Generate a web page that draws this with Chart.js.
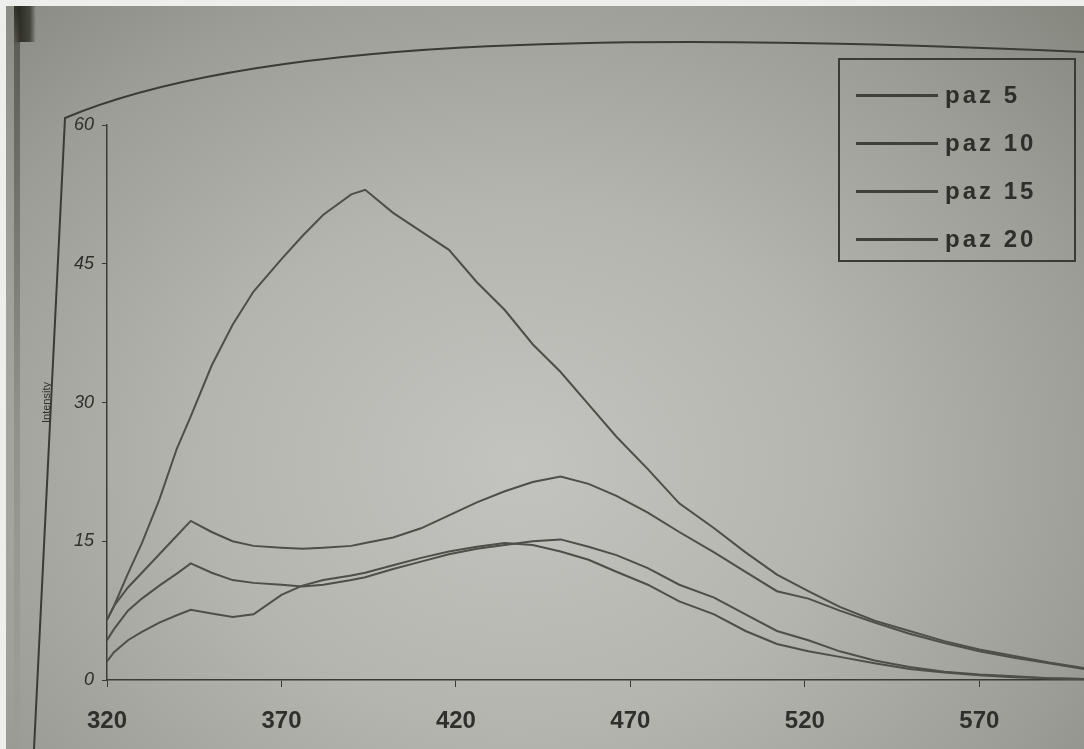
<!DOCTYPE html>
<html>
<head>
<meta charset="utf-8">
<script src="https://cdn.jsdelivr.net/npm/chart.js@4"></script>
<style>
    html, body {
        margin: 0;
        padding: 0;
    }
    body {
        width: 1084px;
        height: 749px;
        overflow: hidden;
        position: relative;
        background:
            linear-gradient(#eeeeec, #eeeeec) 0 0 / 100% 6px no-repeat,
            linear-gradient(#eeeeec, #eeeeec) 0 0 / 6px 100% no-repeat,
            linear-gradient(to bottom, rgba(40,40,34,0.9) 0, rgba(60,60,54,0.6) 40px, rgba(80,80,74,0.25) 400px, rgba(0,0,0,0) 749px) 14px 6px / 6px 100% no-repeat,
            linear-gradient(to right, rgba(0,0,0,0) 0, #2f2f28 6px, #44453d 16px, rgba(0,0,0,0) 22px) 14px 6px / 24px 36px no-repeat,
            radial-gradient(ellipse at 48% 62%, #c3c3bf 0%, #b5b5b0 40%, #9c9d97 75%, #85867e 100%);
    }
    #wrap {
        position: absolute;
        left: 0;
        top: 0;
        width: 1084px;
        height: 749px;
    }
    #legend {
        position: absolute;
        left: 838px;
        top: 58px;
        width: 234px;
        height: 200px;
        border: 2px solid #3a3a36;
        font-family: "Liberation Sans", Arial, sans-serif;
        font-weight: bold;
        font-size: 24px;
        letter-spacing: 3px;
        color: #2e2e2b;
    }
    .item {
        position: absolute;
        left: 16px;
        height: 30px;
        display: flex;
        align-items: center;
        white-space: nowrap;
    }
    .item span.line {
        display: inline-block;
        width: 82px;
        height: 3px;
        background: #3f403b;
        margin-right: 7px;
    }
</style>
</head>
<body>
<div id="wrap"><canvas id="chart" width="1084" height="749"></canvas></div>
<div id="legend"></div>
<script>
// wavelength (nm)
const wavelength = [320, 322, 326, 330, 335, 340, 344, 350, 356, 362, 370, 376, 382, 390, 394,
    402, 410, 418, 426, 434, 442, 450, 458, 466, 475, 484, 494, 503, 512, 521, 530, 540,
    550, 560, 570, 580, 590, 600];

const paz5 = [6.5, 8, 11.5, 14.8, 19.5, 25, 28.5, 34, 38.4, 42, 45.5, 48, 50.3, 52.5, 53,
    50.5, 48.5, 46.5, 43, 40, 36.3, 33.3, 29.8, 26.3, 22.8, 19.1, 16.4, 13.8, 11.4, 9.6, 7.9, 6.4,
    5.3, 4.2, 3.3, 2.6, 1.9, 1.3];

const paz10 = [6.5, 8, 10, 11.6, 13.6, 15.6, 17.2, 16, 15, 14.5, 14.3, 14.2, 14.3, 14.5, 14.8,
    15.4, 16.4, 17.8, 19.2, 20.4, 21.4, 22, 21.2, 19.9, 18.1, 16, 13.8, 11.7, 9.6, 8.8, 7.5, 6.2,
    5, 4, 3.1, 2.4, 1.8, 1.2];

const paz15 = [4.3, 5.5, 7.5, 8.8, 10.2, 11.5, 12.6, 11.6, 10.8, 10.5, 10.3, 10.1, 10.3, 10.8, 11.1,
    12, 12.8, 13.6, 14.2, 14.6, 15, 15.2, 14.4, 13.5, 12.1, 10.3, 8.9, 7.1, 5.3, 4.3, 3.1, 2.1,
    1.4, 0.9, 0.6, 0.4, 0.2, 0.1];

const paz20 = [2, 3, 4.3, 5.2, 6.2, 7, 7.6, 7.2, 6.8, 7.1, 9.2, 10.2, 10.8, 11.3, 11.6,
    12.4, 13.2, 13.9, 14.4, 14.8, 14.6, 13.9, 13, 11.7, 10.3, 8.5, 7.1, 5.3, 3.9, 3.1, 2.5, 1.8,
    1.2, 0.8, 0.5, 0.3, 0.2, 0.1];

const seriesNames = ["paz 5", "paz 10", "paz 15", "paz 20"];
const seriesValues = [paz5, paz10, paz15, paz20];

const xTicks = [320, 370, 420, 470, 520, 570];
const yTicks = [0, 15, 30, 45, 60];

const lineColor = "#4e4f49";
const axisColor = "#3a3a36";

// page frame around the plot (the printed border)
const framePlugin = {
    id: "frame",
    beforeDraw(c) {
        const ctx = c.ctx;
        ctx.save();
        ctx.strokeStyle = "#3b3b36";
        ctx.lineWidth = 2;
        ctx.beginPath();
        ctx.moveTo(34, 749);
        ctx.lineTo(65, 118);
        ctx.bezierCurveTo(250, 40, 600, 30, 1084, 52);
        ctx.stroke();
        ctx.restore();
    }
};

let chart = new Chart(document.getElementById("chart"), {
    type: "line",
    data: {
        labels: wavelength,
        datasets: seriesNames.map((name, i) => ({
            label: name,
            data: wavelength.map((w, j) => ({x: w, y: seriesValues[i][j]})),
            borderColor: lineColor,
            borderWidth: 2,
            pointRadius: 0,
            tension: 0,
            fill: false
        }))
    },
    options: {
        responsive: false,
        animation: false,
        layout: {padding: {left: 40, right: 0, top: 125, bottom: 0}},
        plugins: {
            legend: {display: false},
            tooltip: {enabled: false}
        },
        scales: {
            x: {
                type: "linear",
                min: 320,
                max: 600,
                afterBuildTicks: s => { s.ticks = xTicks.map(v => ({value: v})); },
                afterFit: s => { s.height = 69; },
                border: {display: true, color: axisColor, width: 1.5},
                grid: {drawOnChartArea: false, color: axisColor, tickLength: 7},
                ticks: {
                    color: "#2f2f2c",
                    padding: 20,
                    font: {family: "Liberation Sans", size: 24, weight: "bold"}
                }
            },
            y: {
                min: 0,
                max: 60,
                afterBuildTicks: s => { s.ticks = yTicks.map(v => ({value: v})); },
                afterFit: s => { s.width = 67; },
                border: {display: true, color: axisColor, width: 1.5},
                grid: {drawOnChartArea: false, color: axisColor, tickLength: 5},
                title: {
                    display: true,
                    text: "Intensity",
                    color: "#2f2f2c",
                    padding: {top: 0, bottom: 10},
                    font: {family: "Liberation Sans", size: 11}
                },
                ticks: {
                    color: "#2f2f2c",
                    padding: 8,
                    font: {family: "Liberation Sans", size: 18, style: "italic"}
                }
            }
        }
    },
    plugins: [framePlugin]
});

// legend box
const legend = document.getElementById("legend");
seriesNames.forEach((name, i) => {
    const row = document.createElement("div");
    row.className = "item";
    row.style.top = (20 + i * 48) + "px";
    row.innerHTML = '<span class="line"></span>' + name;
    legend.appendChild(row);
});
</script>
</body>
</html>
